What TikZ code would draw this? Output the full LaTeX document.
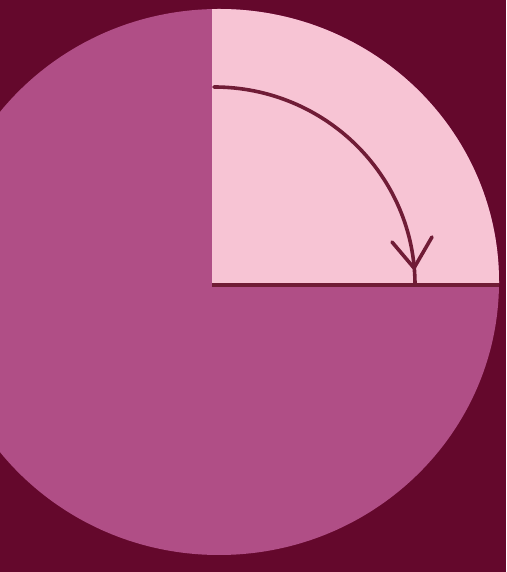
\documentclass[tikz,border=0pt]{standalone}
\definecolor{bgmaroon}{RGB}{100,8,44}
\definecolor{diskpink}{RGB}{176,78,134}
\definecolor{quadpink}{RGB}{247,196,212}
\definecolor{inkline}{RGB}{112,28,54}
\tikzset{
  inkstroke/.style={draw=inkline, line width=4pt, line cap=round},
  arcstroke/.style={draw=inkline, line width=3.6pt, line cap=round, line join=round}
}
\begin{document}
\begin{tikzpicture}[x=1pt,y=1pt]
  \useasboundingbox (0,0) rectangle (506,572);
  \fill[bgmaroon] (0,0) rectangle (506,572);
  % disk
  \coordinate (c) at (219,290);
  \coordinate (o) at (212,287);
  \fill[diskpink] (c) ellipse [x radius=280, y radius=273];
  \begin{scope}
    \clip (c) ellipse [x radius=280, y radius=273];
    \fill[quadpink] (o) rectangle (506,572);
    \coordinate (e) at (506,287);
    \draw[inkstroke, line cap=butt] (o) -- (e);
  \end{scope}
  % curved arrow
  \coordinate (a0) at (214,485);
  \coordinate (tip) at (414,304);
  \coordinate (armL) at (392,330);
  \coordinate (armR) at (432,335);
  \draw[arcstroke] (a0) arc[start angle=90, end angle=0, x radius=201, y radius=198];
  \draw[arcstroke] (armL) -- (tip) -- (armR);
\end{tikzpicture}
\end{document}
